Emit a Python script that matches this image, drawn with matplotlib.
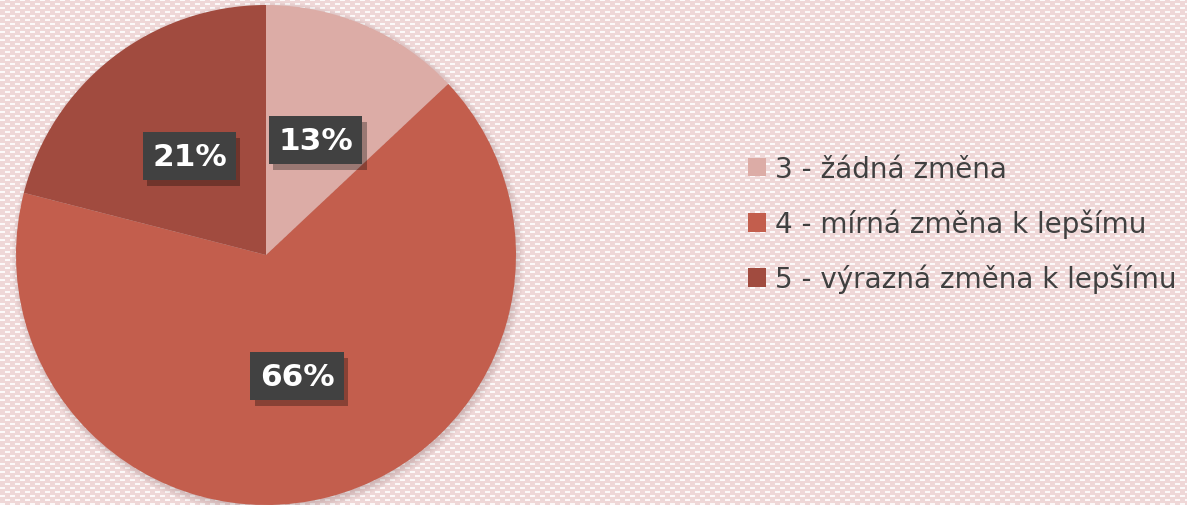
import matplotlib
matplotlib.use("Agg")
import matplotlib.pyplot as plt
from matplotlib.patches import Patch
import matplotlib.patheffects as pe
import numpy as np

categories = ["3 - žádná změna", "4 - mírná změna k lepšímu", "5 - výrazná změna k lepšímu"]
values = [13, 66, 21]
colors = ["#dcaca6", "#c35e4d", "#a14b3f"]

W, H = 1187, 506
fig = plt.figure(figsize=(W / 100, H / 100), dpi=100)
fig.patch.set_facecolor("#f3e1e1")

# textured background (pink with small white dashes)
yy, xx = np.mgrid[0:H, 0:W]
bg = np.empty((H, W, 3))
bg[:] = np.array([239, 215, 215]) / 255
rowA = (yy % 8 < 2) & (xx % 10 < 5)
rowB = ((yy % 8 >= 4) & (yy % 8 < 6)) & (xx % 10 >= 5)
bg[rowA | rowB] = np.array([252, 249, 249]) / 255
fig.figimage(bg, xo=0, yo=0, origin="upper", zorder=-10)

ax = fig.add_axes([0, 0, 1, 1])
ax.patch.set_alpha(0)
ax.set_zorder(1)

cx, cy, r = 266, H - 256, 250

# soft shadow / glow
for i in range(6):
    ax.pie([1], colors=["#6a4a4a"], center=(cx + 2, cy - 3),
           radius=r + 6 - i * 1.5, wedgeprops=dict(alpha=0.04, linewidth=0))

wedges, texts, autotexts = ax.pie(
    values, colors=colors, center=(cx, cy), radius=r, startangle=90,
    counterclock=False, autopct="%d%%", pctdistance=0.5,
    wedgeprops=dict(linewidth=0),
    textprops=dict(color="white", fontsize=22.5, fontweight="bold", family="DejaVu Sans"))

for t in autotexts:
    t.set_bbox(dict(boxstyle="square,pad=0.3", fc="#414141", ec="none"))
    t.get_bbox_patch().set_path_effects(
        [pe.SimplePatchShadow(offset=(3, -4), shadow_rgbFace="#000000", alpha=0.3), pe.Normal()])
    t.set_zorder(5)
    t.set_ha("center")
    t.set_va("center")

ax.set_xlim(0, W)
ax.set_ylim(0, H)
ax.set_aspect("equal")
ax.set_axis_off()

handles = [Patch(facecolor=c, edgecolor="none") for c in colors]
leg = ax.legend(handles, categories, loc="center left", bbox_to_anchor=(748 / W, (H - 225) / H),
                frameon=False, labelspacing=0.92, handlelength=0.65,
                handleheight=0.65, handletextpad=0.32, borderaxespad=0, borderpad=0,
                prop=dict(family="DejaVu Sans", size=20))
for t in leg.get_texts():
    t.set_color("#404040")

fig.savefig("out.png", dpi=100)
